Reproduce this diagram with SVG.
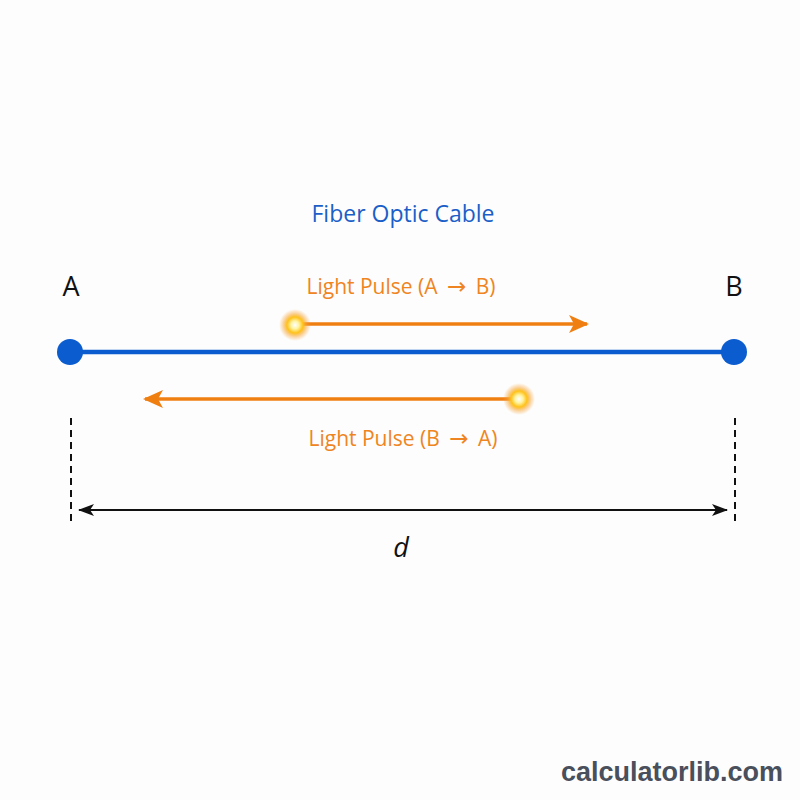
<svg xmlns="http://www.w3.org/2000/svg" width="800" height="800" viewBox="0 0 800 800">
<defs>
<style>
.lbl{font-family:"Open Sans","Noto Sans",sans-serif;}
.pulse{fill:#ef8522;font-size:21px;text-anchor:middle;}
.arr{font-family:"DejaVu Sans",sans-serif;font-size:23px;}
.orange{stroke:#f07f12;stroke-width:3.5;fill:none;}
.dash{stroke:#111;stroke-width:2;stroke-dasharray:7,5;fill:none;}
</style>
<radialGradient id="glow">
<stop offset="0" stop-color="#ffffff"/>
<stop offset="0.25" stop-color="#fff3a0"/>
<stop offset="0.5" stop-color="#ffc21a"/>
<stop offset="0.75" stop-color="#f7a53a" stop-opacity="0.45"/>
<stop offset="1" stop-color="#f7a53a" stop-opacity="0"/>
</radialGradient>
<marker id="ao" viewBox="0 0 20 18" refX="18" refY="9" markerWidth="20" markerHeight="18" markerUnits="userSpaceOnUse" orient="auto-start-reverse">
<path d="M0,0 L20,9 L0,18 L5,9 Z" fill="#f07f12"/>
</marker>
<marker id="ak" viewBox="0 0 16 12" refX="15" refY="6" markerWidth="16" markerHeight="12" markerUnits="userSpaceOnUse" orient="auto-start-reverse">
<path d="M0,0 L16,6 L0,12 L4,6 Z" fill="#111"/>
</marker>
</defs>
<rect width="800" height="800" fill="#fdfdfd"/>
<text class="lbl" x="403" y="222" font-size="23" fill="#1a5fc8" text-anchor="middle">Fiber Optic Cable</text>
<g id="connectors">
<line x1="70" y1="352" x2="734" y2="352" stroke="#0a5ccf" stroke-width="4.5"/>
<path class="orange" d="M300,324 L587,324" marker-end="url(#ao)"/>
<path class="orange" d="M514,399 L145,399" marker-end="url(#ao)"/>
<line class="dash" x1="71" y1="418" x2="71" y2="521"/>
<line class="dash" x1="735" y1="418" x2="735" y2="521"/>
<path d="M79,510 L727,510" stroke="#111" stroke-width="2" fill="none" marker-start="url(#ak)" marker-end="url(#ak)"/>
</g>
<g id="nodeA">
<circle cx="70" cy="352" r="13" fill="#0a5ccf"/>
<text class="lbl" x="71" y="296" font-size="27" fill="#111" text-anchor="middle">A</text>
</g>
<g id="nodeB">
<circle cx="734" cy="352" r="13" fill="#0a5ccf"/>
<text class="lbl" x="734" y="296" font-size="27" fill="#111" text-anchor="middle">B</text>
</g>
<g id="pulseAB">
<circle cx="295" cy="325" r="16" fill="url(#glow)"/>
<text class="lbl pulse" x="401" y="294">Light Pulse (A <tspan class="arr" dx="4">→</tspan><tspan dx="4"> B)</tspan></text>
</g>
<g id="pulseBA">
<circle cx="519" cy="399" r="16" fill="url(#glow)"/>
<text class="lbl pulse" x="403" y="446">Light Pulse (B <tspan class="arr" dx="4">→</tspan><tspan dx="4"> A)</tspan></text>
</g>
<text class="lbl" x="401" y="557" font-size="27" font-style="italic" fill="#111" text-anchor="middle">d</text>
<text x="783" y="781" font-family="Liberation Sans, Arial, sans-serif" font-weight="bold" font-size="27" fill="#4a4f5c" text-anchor="end">calculatorlib.com</text>
</svg>
